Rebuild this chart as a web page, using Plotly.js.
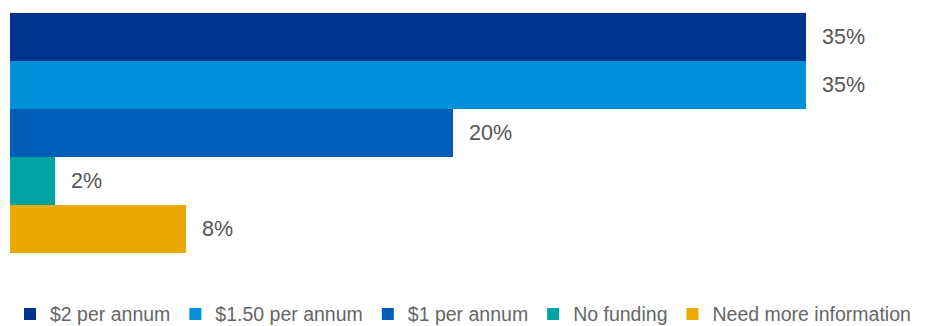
<!DOCTYPE html>
<html>
<head>
<meta charset="utf-8">
<script src="https://cdn.plot.ly/plotly-3.0.1.min.js"></script>
<style>html,body{margin:0;padding:0;background:#fff;overflow:hidden;}#chart{width:927px;height:326px;}</style>
</head>
<body>
<div id="chart"></div>
<script>
var categories = ["$2 per annum", "$1.50 per annum", "$1 per annum", "No funding", "Need more information"];
var values = [35, 35, 19.5, 2, 7.75];
var labels = ["35%", "35%", "20%", "2%", "8%"];
var colors = ["#00338D", "#0091DA", "#005EB8", "#00A3A1", "#EAAA00"];

var FONT = "Liberation Sans, Arial, sans-serif";
var traces = categories.map(function (c, i) {
  return {
    type: "bar",
    orientation: "h",
    name: c,
    y: [c],
    x: [values[i]],
    marker: {color: colors[i], line: {width: 0}},
    hoverinfo: "name+x"
  };
});

var annotations = categories.map(function (c, i) {
  return {
    x: values[i], y: c, xref: "x", yref: "y",
    text: labels[i], showarrow: false,
    xanchor: "left", yanchor: "middle", xshift: 14, yshift: 0,
    font: {family: FONT, size: 21.5, color: "#555555"}
  };
});

var layout = {
  width: 927, height: 326,
  margin: {l: 10, r: 10, t: 13, b: 73, pad: 0},
  paper_bgcolor: "#ffffff", plot_bgcolor: "#ffffff",
  barmode: "overlay",
  bargap: 0,
  xaxis: {range: [0, 39.88], visible: false, fixedrange: true},
  yaxis: {type: "category", categoryorder: "array", categoryarray: categories,
          autorange: "reversed", visible: false, fixedrange: true},
  showlegend: true,
  legend: {orientation: "h", x: 0.0108, xanchor: "left", xref: "container",
           y: 0.096, yanchor: "top", yref: "container",
           font: {family: FONT, size: 19.5, color: "#666666"},
           itemwidth: 30, tracegroupgap: 0, traceorder: "normal",
           bgcolor: "rgba(0,0,0,0)"},
  annotations: annotations
};

Plotly.newPlot("chart", traces, layout, {displayModeBar: false, staticPlot: true});
</script>
</body>
</html>
